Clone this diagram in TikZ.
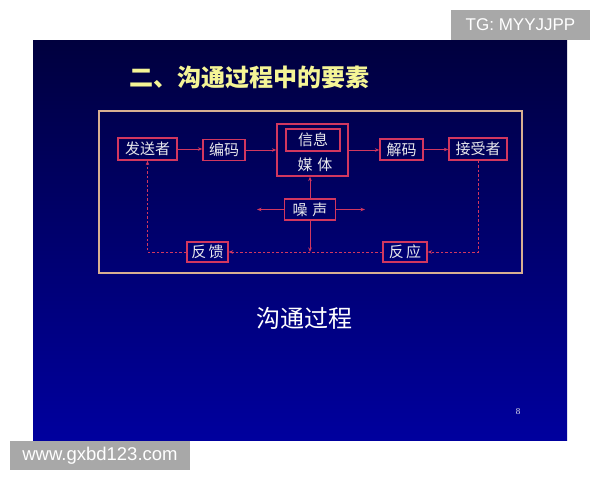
\documentclass[tikz,border=0pt]{standalone}
\usepackage{fontspec}
\setmainfont{Liberation Sans}
\newfontfamily\cjk{Noto Sans CJK SC}
\newfontfamily\serifnum{Liberation Serif}
\usetikzlibrary{arrows.meta}
\definecolor{boxred}{RGB}{210,55,95}
\definecolor{framec}{RGB}{215,175,145}
\definecolor{slidetop}{RGB}{0,0,62}
\definecolor{slidebot}{RGB}{0,0,158}
\definecolor{titley}{RGB}{245,245,150}
\definecolor{boxtext}{RGB}{232,232,236}
\definecolor{wmgray}{RGB}{168,168,168}
\tikzset{
  box/.style={draw=boxred, line width=1.3pt, inner sep=0pt, text=boxtext, font=\cjk\fontsize{15}{16}\selectfont},
  frameb/.style={draw=framec, line width=1.1pt, inner sep=0pt},
  arr/.style={draw=boxred, line width=1pt, -{Stealth[length=4.5pt,width=3.5pt]}},
  darr/.style={draw=boxred, line width=1pt, dash pattern=on 2.5pt off 2pt, -{Stealth[length=4.5pt,width=3.5pt]}},
  wm/.style={fill=wmgray, text=white, inner sep=0pt},
}
\begin{document}
\begin{tikzpicture}[x=1pt,y=-1pt]
\useasboundingbox (0,0) rectangle (600,480);
\fill[white] (0,0) rectangle (600,480);
\shade[top color=slidetop, bottom color=slidebot] (33,40) rectangle (567,440);
% watermarks
\node[wm, minimum width=139pt, minimum height=30pt] (tg) at (520.5,25) {\fontsize{17}{20}\selectfont TG: MYYJJPP};
\node[wm, minimum width=180pt, minimum height=29pt] (www) at (100,455.5) {\fontsize{18.5}{20}\selectfont www.gxbd123.com};
% title
\node[text=titley, font=\cjk\bfseries\fontsize{24}{26}\selectfont, inner sep=0pt] (title) at (249,77) {二、沟通过程中的要素};
% frame
\node[frameb, minimum width=423pt, minimum height=162pt] (frame) at (310.5,192) {};
% boxes
\node[box, minimum width=59pt, minimum height=22pt] (snd) at (147.5,149) {发送者};
\node[box, minimum width=42pt, minimum height=21pt] (enc) at (224,150) {编码};
\node[box, minimum width=71pt, minimum height=52pt] (media) at (312.5,150) {};
\node[box, minimum width=54pt, minimum height=22pt] (info) at (313,140) {信息};
\node[text=boxtext, font=\cjk\fontsize{15}{16}\selectfont, inner sep=0pt] (mtext) at (315,165) {媒\,\,体};
\node[box, minimum width=43pt, minimum height=21pt] (dec) at (401.5,149.5) {解码};
\node[box, minimum width=58pt, minimum height=22pt] (rcv) at (478,149) {接受者};
\node[box, minimum width=51pt, minimum height=21pt] (noise) at (310,209.5) {噪\,\,声};
\node[box, minimum width=41pt, minimum height=20pt] (fb) at (207.5,252) {反\,馈};
\node[box, minimum width=44pt, minimum height=20pt] (resp) at (405,252) {反\,应};
% solid connectors
\draw[arr] (snd.east) -- (snd.east -| enc.west);
\draw[arr] (enc.east) -- (enc.east -| media.west);
\draw[arr] (media.east) -- (media.east -| dec.west);
\draw[arr] (dec.east) -- (dec.east -| rcv.west);
\draw[arr] (noise.north) -- (noise.north |- media.south);
\coordinate (nl) at (257,209.5);
\coordinate (nr) at (365,209.5);
\coordinate (nd) at (310,252);
\draw[arr] (noise.west) -- (nl);
\draw[arr] (noise.east) -- (nr);
\draw[arr] (noise.south) -- (nd);
% dashed connectors
\draw[darr] (rcv.south) -- (rcv.south |- resp.east) -- (resp.east);
\draw[darr] (resp.west) -- (fb.east);
\draw[darr] (fb.west) -- (fb.west -| snd.south) -- (snd.south);
% caption
\node[text=white, font=\cjk\fontsize{24}{26}\selectfont, inner sep=0pt] (cap) at (304,318) {沟通过程};
\node[text=boxtext, font=\serifnum\fontsize{9}{10}\selectfont, inner sep=0pt] (pg) at (518,412) {8};
\end{tikzpicture}
\end{document}
